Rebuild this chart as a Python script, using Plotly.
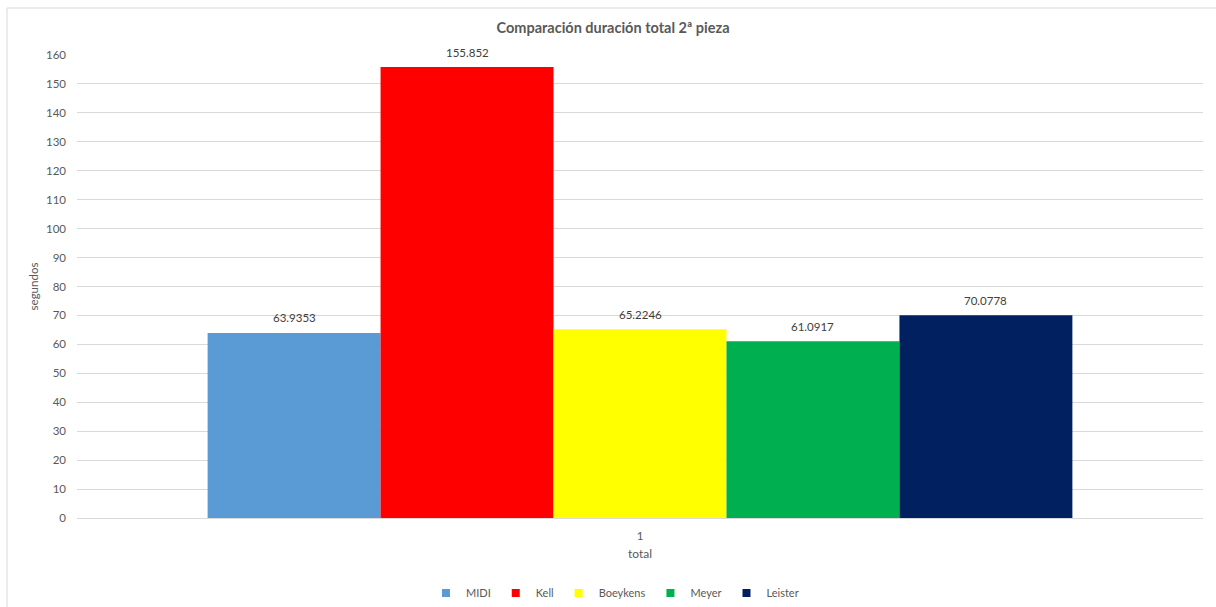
import plotly.graph_objects as go

categories = ["1"]
series_names = ["MIDI", "Kell", "Boeykens", "Meyer", "Leister"]
series_values = [63.9353, 155.852, 65.2246, 61.0917, 70.0778]
series_labels = ["63.9353", "155.852", "65.2246", "61.0917", "70.0778"]
colors = ["#5b9bd5", "#ff0000", "#ffff00", "#00b050", "#002060"]
y_ticks = list(range(0, 161, 10))

FONT = "Lato, Open Sans, sans-serif"
fig = go.Figure()
for i, (name, val, lab, col) in enumerate(zip(series_names, series_values, series_labels, colors)):
    fig.add_trace(go.Bar(
        x=categories, y=[val], name=name, marker=dict(color=col, line=dict(width=0)),
        showlegend=False, offsetgroup=str(i),
    ))
for name, col in zip(series_names, colors):
    fig.add_trace(go.Scatter(
        x=[None], y=[None], mode="markers", name=name,
        marker=dict(symbol="square", size=8, color=col),
    ))

W, H = 1216, 607
L, R, T, B = 77, 13, 55, 89
pw, ph = W - L - R, H - T - B

def px_x(p):
    return (p - L) / pw

def px_y(p):
    return (H - B - p) / ph

bargap = 0.232
n = len(series_names)
bw = (1 - bargap) / n
for i, (val, lab) in enumerate(zip(series_values, series_labels)):
    xpos = -0.5 + bargap / 2 + bw * (i + 0.5)
    fig.add_annotation(x=xpos, y=val, xref="x", yref="y", text=lab, showarrow=False,
                       yshift=15, font=dict(size=11.5, color="#404040", family=FONT))

fig.update_layout(
    width=W, height=H,
    margin=dict(l=L, r=R, t=T, b=B, autoexpand=False),
    paper_bgcolor="white", plot_bgcolor="white",
    barmode="group", bargap=bargap, bargroupgap=0,
    font=dict(family=FONT, color="#595959", size=11),
    title=dict(text="<b>Comparación duración total 2ª pieza</b>",
               x=px_x(613), xref="paper", xanchor="center",
               y=1 - 28 / H, yref="container", yanchor="middle",
               font=dict(size=14.5, color="#595959", family=FONT)),
    xaxis=dict(showgrid=False, showline=True, linecolor="#d9d9d9", linewidth=1,
               ticks="", ticklabelstandoff=7, tickfont=dict(size=11.5, color="#595959"),
               range=[-0.5, 0.5], type="category",
               title=dict(text="total", standoff=8, font=dict(size=12, color="#595959"))),
    yaxis=dict(range=[0, 160], tickvals=y_ticks, showgrid=True, gridcolor="#d9d9d9",
               gridwidth=1, zeroline=False, showline=False, ticks="",
               ticklabelstandoff=10,
               tickfont=dict(size=11.5, color="#595959"),
               title=dict(text="segundos", standoff=4, font=dict(size=11.5, color="#595959"))),
    legend=dict(orientation="h", x=px_x(615), xanchor="center", y=px_y(593), yanchor="middle",
                font=dict(size=11, color="#595959"), itemwidth=30, tracegroupgap=0,
                bgcolor="rgba(0,0,0,0)"),
    showlegend=True,
)

fig.add_shape(type="line", xref="paper", yref="paper",
              x0=px_x(7), x1=px_x(1220), y0=px_y(8), y1=px_y(8),
              line=dict(color="#d9d9d9", width=1))
fig.add_shape(type="line", xref="paper", yref="paper",
              x0=px_x(7), x1=px_x(7), y0=px_y(8), y1=px_y(612),
              line=dict(color="#d9d9d9", width=1))

fig.write_html("out.html")
